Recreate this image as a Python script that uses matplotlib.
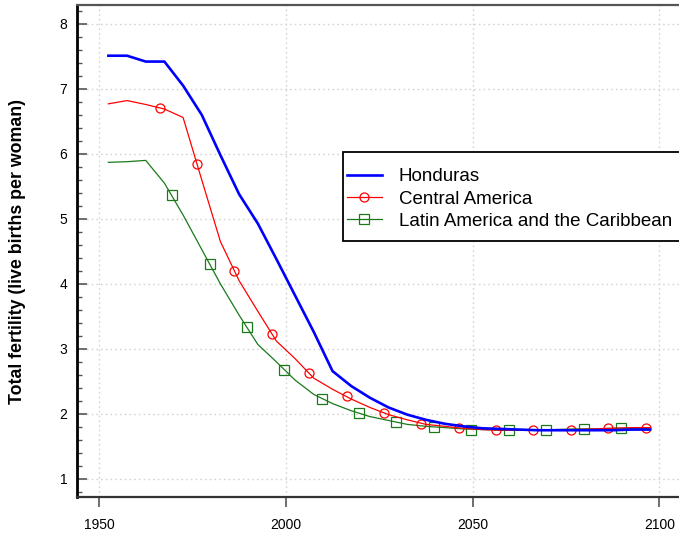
import matplotlib
matplotlib.use("Agg")
import matplotlib.pyplot as plt
from matplotlib.lines import Line2D
from matplotlib.patches import Rectangle
from matplotlib.ticker import MultipleLocator

plt.rcParams['font.family'] = ['Liberation Sans', 'DejaVu Sans']

# 5-year period midpoints
years = [1952.5 + 5 * i for i in range(30)]

honduras = [7.51, 7.51, 7.42, 7.42, 7.05, 6.60, 5.98, 5.38, 4.93, 4.38,
            3.82, 3.26, 2.66, 2.43, 2.25, 2.10, 1.99, 1.91, 1.85, 1.81,
            1.78, 1.77, 1.76, 1.75, 1.75, 1.75, 1.75, 1.75, 1.76, 1.76]
central_am = [6.77, 6.82, 6.76, 6.69, 6.56, 5.60, 4.65, 4.05, 3.58, 3.12,
              2.85, 2.55, 2.38, 2.23, 2.10, 1.99, 1.91, 1.84, 1.81, 1.78,
              1.76, 1.75, 1.75, 1.75, 1.76, 1.76, 1.77, 1.78, 1.79, 1.79]
latin_am = [5.87, 5.88, 5.90, 5.55, 5.06, 4.53, 4.00, 3.52, 3.07, 2.80,
            2.52, 2.30, 2.16, 2.05, 1.96, 1.90, 1.84, 1.81, 1.79, 1.77,
            1.76, 1.75, 1.75, 1.75, 1.76, 1.77, 1.77, 1.78, 1.78, 1.78]

# marker positions as drawn on the original chart
ca_mark_years = [1966.2, 1976.2, 1986.2, 1996.2, 2006.3, 2016.3, 2026.3,
                 2036.3, 2046.3, 2056.3, 2066.3, 2076.3, 2086.3, 2096.3]
ca_mark_vals = [6.71, 5.85, 4.20, 3.23, 2.63, 2.27, 2.01,
                1.85, 1.78, 1.75, 1.75, 1.76, 1.78, 1.79]
la_mark_years = [1969.6, 1979.6, 1989.6, 1999.6, 2009.6, 2019.6, 2029.6,
                 2039.6, 2049.7, 2059.7, 2069.7, 2079.7, 2089.7]
la_mark_vals = [5.37, 4.31, 3.33, 2.67, 2.23, 2.01, 1.87,
                1.80, 1.76, 1.75, 1.75, 1.77, 1.78]

labels = ['Honduras', 'Central America', 'Latin America and the Caribbean']
blue = '#0000ff'
red = '#ff0000'
green = '#1a7a1a'

W, H = 679, 533
fig = plt.figure(figsize=(W / 100, H / 100), dpi=100)
ax = fig.add_axes([77 / W, 1 - 497 / H, (684 - 77) / W, (497 - 5) / H])

ax.plot(years, latin_am, color=green, lw=0.9)
ax.plot(la_mark_years, la_mark_vals, ls='none', marker='s', ms=6.5,
        mfc='none', mec=green, mew=0.9)
ax.plot(years, central_am, color=red, lw=0.9)
ax.plot(ca_mark_years, ca_mark_vals, ls='none', marker='o', ms=6.5,
        mfc='none', mec=red, mew=0.9)
ax.plot(years, honduras, color=blue, lw=1.9)

ax.set_xlim(1944.1, 2106.6)
ax.set_ylim(0.723, 8.29)
ax.set_xticks([1950, 2000, 2050, 2100])
ax.set_yticks(range(1, 9))
ax.yaxis.set_minor_locator(MultipleLocator(0.2))

ax.grid(True, color='#d4d4d4', ls=(0, (1.2, 2.2)), lw=1.0)
ax.set_axisbelow(True)

ax.tick_params(axis='x', direction='out', length=7, width=1.2, color='#555555',
               labelsize=10, pad=8)
ax.tick_params(axis='y', which='major', direction='in', length=7, width=1.2,
               color='#555555', labelsize=10, pad=7)
ax.tick_params(axis='y', which='minor', direction='in', length=3.5, width=1.0,
               color='#555555')

ax.spines['left'].set_linewidth(2)
ax.spines['left'].set_color('black')
ax.spines['bottom'].set_linewidth(1.6)
ax.spines['bottom'].set_color('#333333')
ax.spines['top'].set_linewidth(1.6)
ax.spines['top'].set_color('#555555')

ax.set_ylabel('Total fertility (live births per woman)', fontsize=12.8,
              fontweight='bold', labelpad=24)

# legend box runs past the right edge, as in the original
box = Rectangle((342.7 / W, 1 - 240.7 / H), (720 - 342.7) / W, 89 / H,
                transform=fig.transFigure, facecolor='white',
                edgecolor='black', lw=1.3, zorder=5)
fig.add_artist(box)

handles = [Line2D([], [], color=blue, lw=1.9),
           Line2D([], [], color=red, lw=0.9, marker='o', ms=6.5, mfc='none', mew=0.9),
           Line2D([], [], color=green, lw=0.9, marker='s', ms=6.5, mfc='none', mew=0.9)]
leg = fig.legend(handles, labels, loc='center left',
                 bbox_to_anchor=(346.7 / W, 1 - 199 / H),
                 fontsize=13.5, frameon=False, handlelength=1.87,
                 handletextpad=0.9, labelspacing=0.28, borderpad=0,
                 borderaxespad=0, numpoints=1)
leg.set_zorder(6)

fig.savefig('out.png', dpi=100)
